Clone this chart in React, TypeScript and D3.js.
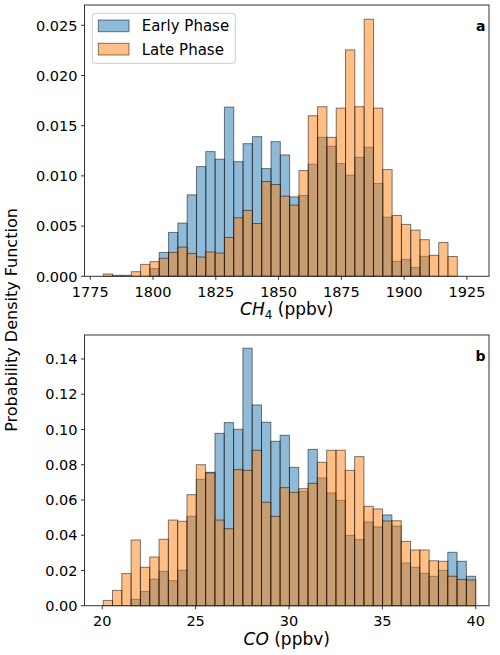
import React from 'react';
import * as d3 from 'd3';

// CH4 histogram: 38 shared bins (density)
const ch4BinStart = 1780.2;
const ch4BinWidth = 3.71;
const ch4Early = [
  0, 0, 0, 0, 0, 0.00076, 0.00238, 0.00437, 0.0053, 0.00811, 0.01093, 0.01242, 0.01166,
  0.01685, 0.01142, 0.01321, 0.01391, 0.01073, 0.01341, 0.01209, 0.00791, 0.00805, 0.01116,
  0.01384, 0.01295, 0.01123, 0.01007, 0.01185, 0.01285, 0.00924, 0.00589, 0.00149, 0.00169,
  0.00089, 0.00199, 0, 0, 0,
];
const ch4Late = [
  0.00023, 0.0001, 0.0001, 0.00046, 0.00119, 0.00146, 0.00179, 0.00238, 0.00291, 0.00228,
  0.00192, 0.00242, 0.00232, 0.00387, 0.00583, 0.00656, 0.00526, 0.00944, 0.00914, 0.00798,
  0.00709, 0.01053, 0.01599, 0.01689, 0.01384, 0.01675, 0.02255, 0.01689, 0.0256, 0.01675,
  0.01063, 0.00606, 0.00517, 0.0046, 0.00365, 0.00209, 0.00336, 0.00197,
];
const ch4XTicks = [1775, 1800, 1825, 1850, 1875, 1900, 1925];
const ch4YTicks = [0, 0.005, 0.01, 0.015, 0.02, 0.025];

// CO histogram: 40 shared bins (density)
const coBinStart = 20.05;
const coBinWidth = 0.4987;
const coEarly = [
  0, 0, 0, 0.0036, 0.0081, 0.0151, 0.0195, 0.0142, 0.0201, 0.0507, 0.0717, 0.0757, 0.0978,
  0.1039, 0.1001, 0.1461, 0.1139, 0.1041, 0.0933, 0.0967, 0.0785, 0.0649, 0.0887, 0.0725,
  0.064, 0.0598, 0.0399, 0.0375, 0.0475, 0.0447, 0.0515, 0.0452, 0.0242, 0.0218, 0.0184,
  0.0167, 0.0201, 0.0303, 0.0252, 0.0167,
];
const coLate = [
  0.003, 0.0087, 0.0182, 0.0373, 0.0218, 0.0276, 0.0377, 0.0486, 0.0479, 0.063, 0.08, 0.0753,
  0.0486, 0.0437, 0.0772, 0.0768, 0.0882, 0.0587, 0.0507, 0.067, 0.0643, 0.0664, 0.0694,
  0.0814, 0.0882, 0.0882, 0.0768, 0.0846, 0.0564, 0.0549, 0.0481, 0.0482, 0.0365, 0.0316,
  0.0316, 0.0255, 0.0252, 0.0167, 0.0149, 0.0146,
];
const coXTicks = [20, 25, 30, 35, 40];
const coYTicks = [0, 0.02, 0.04, 0.06, 0.08, 0.1, 0.12, 0.14];

const seriesNames = ['Early Phase', 'Late Phase'];
const colors = ['#1f77b4', '#ff7f0e'];
const font = 'DejaVu Sans, sans-serif';

const left = 84.5;
const right = 489;

interface PanelProps {
  top: number;
  bottom: number;
  xDomain: [number, number];
  yDomain: [number, number];
  binStart: number;
  binWidth: number;
  series: number[][];
  xTicks: number[];
  yTicks: number[];
  yFormat: string;
  tag: string;
  xLabel: React.ReactNode;
  legend?: boolean;
}

const Panel = ({
  top, bottom, xDomain, yDomain, binStart, binWidth, series, xTicks, yTicks, yFormat, tag, xLabel, legend,
}: PanelProps) => {
  const x = d3.scaleLinear().domain(xDomain).range([left, right]);
  const y = d3.scaleLinear().domain(yDomain).range([bottom, top]);
  const fmt = d3.format(yFormat);

  return (
    <g>
      {series.map((vals, s) => (
        <g key={s}>
          {vals.map((v, i) =>
            v > 0 ? (
              <rect
                key={i}
                x={x(binStart + i * binWidth)}
                y={y(v)}
                width={x(binStart + (i + 1) * binWidth) - x(binStart + i * binWidth)}
                height={y(0) - y(v)}
                fill={colors[s]}
                fillOpacity={0.5}
                stroke="#000"
                strokeOpacity={0.5}
                strokeWidth={1}
              />
            ) : null,
          )}
        </g>
      ))}
      <rect x={left} y={top} width={right - left} height={bottom - top} fill="none" stroke="#333" strokeWidth={1} />
      {xTicks.map((t) => (
        <g key={t} transform={`translate(${x(t)},${bottom})`}>
          <line y2={3.5} stroke="#333" />
          <text y={20.3} textAnchor="middle" fontSize={14.5} fontFamily={font} fill="#000">
            {t}
          </text>
        </g>
      ))}
      {yTicks.map((t) => (
        <g key={t} transform={`translate(${left},${y(t)})`}>
          <line x2={-3.5} stroke="#333" />
          <text x={-7} dy="0.36em" textAnchor="end" fontSize={14.5} fontFamily={font} fill="#000">
            {fmt(t)}
          </text>
        </g>
      ))}
      <text x={(left + right) / 2} y={bottom + 39} textAnchor="middle" fontSize={17} fontFamily={font}>
        {xLabel}
      </text>
      <text x={485.5} y={top + 25.5} textAnchor="end" fontSize={14} fontWeight="bold" fontFamily={font}>
        {tag}
      </text>
      {legend && (
        <g>
          <rect x={92.3} y={13.3} width={143} height={50} rx={3} fill="#fff" fillOpacity={0.8} stroke="#ccc" />
          {seriesNames.map((name, i) => (
            <g key={name} transform={`translate(98.3,${20 + i * 23.3})`}>
              <rect width={30.7} height={11.7} fill={colors[i]} fillOpacity={0.5} stroke="#000" strokeOpacity={0.5} />
              <text x={43.4} y={6} dy="0.36em" fontSize={15} fontFamily={font}>
                {name}
              </text>
            </g>
          ))}
        </g>
      )}
    </g>
  );
};

export default function App() {
  return (
    <svg width={500} height={655} style={{ display: 'block', position: 'absolute', left: 0, top: 0 }}>
      <rect width={500} height={655} fill="#fff" />
      <Panel
        top={5}
        bottom={276.3}
        xDomain={[1772.7, 1933.8]}
        yDomain={[0, 0.02702]}
        binStart={ch4BinStart}
        binWidth={ch4BinWidth}
        series={[ch4Early, ch4Late]}
        xTicks={ch4XTicks}
        yTicks={ch4YTicks}
        yFormat=".3f"
        tag="a"
        legend
        xLabel={
          <>
            <tspan fontStyle="italic">CH</tspan>
            <tspan fontSize={12} dy={4}>4</tspan>
            <tspan dy={-4}> (ppbv)</tspan>
          </>
        }
      />
      <Panel
        top={335}
        bottom={605.7}
        xDomain={[19.05, 40.71]}
        yDomain={[0, 0.1536]}
        binStart={coBinStart}
        binWidth={coBinWidth}
        series={[coEarly, coLate]}
        xTicks={coXTicks}
        yTicks={coYTicks}
        yFormat=".2f"
        tag="b"
        xLabel={
          <>
            <tspan fontStyle="italic">CO</tspan>
            <tspan> (ppbv)</tspan>
          </>
        }
      />
      <text
        transform="translate(17,320) rotate(-90)"
        textAnchor="middle"
        fontSize={16}
        fontFamily={font}
      >
        Probability Density Function
      </text>
    </svg>
  );
}
